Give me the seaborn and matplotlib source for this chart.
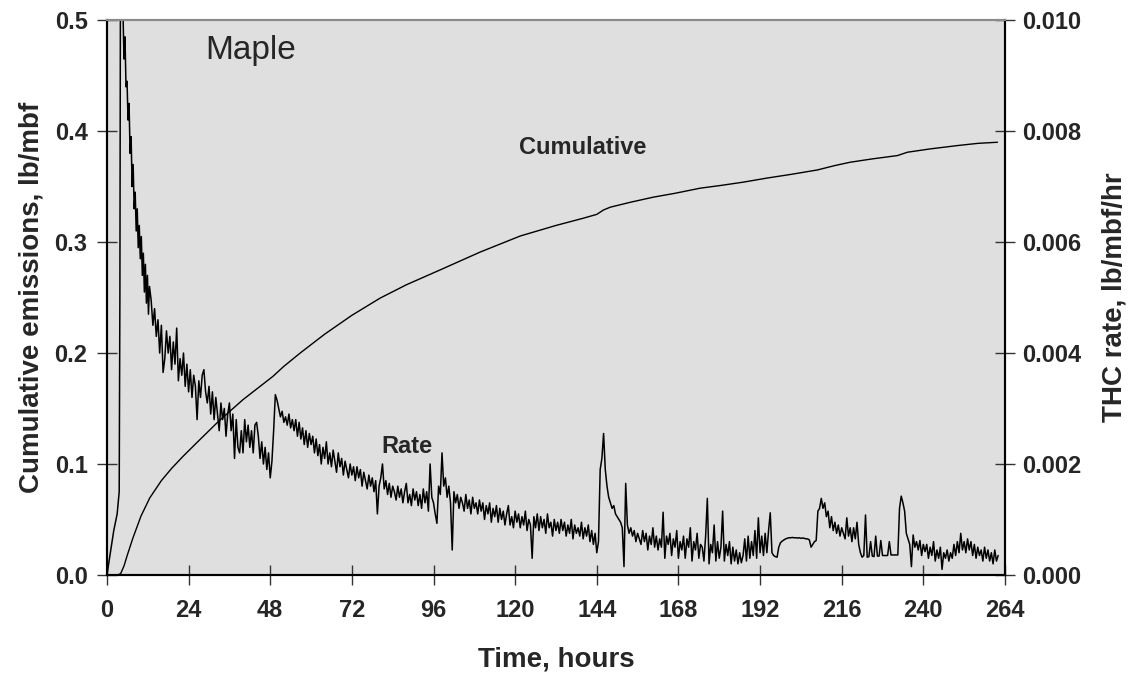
import numpy as np
import pandas as pd
import matplotlib
matplotlib.use("Agg")
import matplotlib.pyplot as plt
import seaborn as sns

# ---------------- data ----------------
# Cumulative emissions, lb/mbf (left axis)
cum_hours = [0, 3, 4, 5, 6, 7.6, 10, 12.6, 16, 19, 22.4, 27, 33, 40, 48.8, 52, 56.8,
             64, 72, 80.3, 88, 98, 109.7, 121.5, 132, 140, 144, 146, 148, 154, 160.6,
             167, 174.4, 180.3, 187, 194, 201, 208.8, 214, 218.5, 225, 232.4, 235.3,
             242, 250, 256, 261.8]
cum_values = [0, 0, 0.001, 0.008, 0.018, 0.033, 0.053, 0.0695, 0.085, 0.096, 0.107,
              0.121, 0.139, 0.158, 0.179, 0.188, 0.200, 0.217, 0.234, 0.2495, 0.2615,
              0.275, 0.291, 0.3055, 0.315, 0.3215, 0.325, 0.329, 0.3315, 0.336, 0.3405,
              0.344, 0.3486, 0.351, 0.354, 0.3577, 0.361, 0.365, 0.369, 0.372, 0.375,
              0.378, 0.381, 0.384, 0.387, 0.389, 0.390]

# THC rate, in units of 0.001 lb/mbf/hr (right axis)
early_hours = [0, 1, 2, 3, 3.6, 3.8, 4.0, 4.3, 4.7, 5.0, 5.3, 5.6, 5.9, 6.2, 6.5, 6.8,
               7.1, 7.4, 7.7, 8.0, 8.3, 8.6, 8.9, 9.2, 9.5, 9.8, 10.1, 10.4, 10.7,
               11.0, 11.3, 11.6, 11.9, 12.2, 12.5]
early_rate = [0, 0.4, 0.8, 1.1, 1.5, 5.0, 12.0, 12.5, 10.2, 9.3, 9.7, 8.8, 8.9, 8.2,
              8.5, 7.6, 7.9, 7.0, 7.4, 6.6, 6.9, 6.2, 6.6, 5.9, 6.3, 5.7, 6.1, 5.4,
              5.8, 5.1, 5.6, 4.9, 5.4, 4.7, 5.2]

# half-hourly readings from 13.0 h to 262.0 h (each row = 6 hours)
halfhour_start = 13.0
halfhour_rate = [
    4.95, 4.5, 4.8, 4.3, 4.6, 4.0, 4.5, 3.65, 3.9, 4.4, 4.0, 4.3,         # 13
    3.7, 4.2, 3.8, 4.45, 3.5, 3.9, 3.6, 4.0, 3.4, 3.8, 3.3, 3.7,          # 19
    3.2, 3.6, 3.4, 2.8, 3.5, 3.2, 3.6, 3.7, 3.3, 3.1, 3.4, 2.9,           # 25
    3.3, 2.8, 3.2, 2.9, 2.6, 3.1, 2.8, 3.0, 2.5, 2.9, 3.1, 2.6,           # 31
    2.9, 2.1, 2.8, 2.3, 2.2, 2.6, 2.2, 2.8, 2.4, 2.7, 2.3, 2.6,           # 37
    2.2, 2.7, 2.75, 2.5, 2.1, 2.4, 2.0, 2.3, 1.9, 2.2, 1.75, 2.05,        # 43
    2.6, 3.25, 3.15, 3.0, 2.85, 2.95, 2.75, 2.85, 2.7, 2.9, 2.65, 2.8,    # 49
    2.6, 2.8, 2.5, 2.75, 2.45, 2.65, 2.35, 2.6, 2.3, 2.55, 2.35, 2.5,     # 55
    2.2, 2.45, 2.15, 2.35, 2.0, 2.3, 2.1, 2.4, 2.0, 2.2, 1.95, 2.25,      # 61
    2.05, 1.85, 2.2, 1.95, 2.1, 1.8, 2.05, 1.9, 1.75, 2.0, 1.8, 1.95,     # 67
    1.7, 1.95, 1.75, 1.9, 1.6, 1.85, 1.7, 1.55, 1.8, 1.6, 1.75, 1.5,      # 73
    1.7, 1.1, 1.6, 1.75, 2.0, 1.55, 1.7, 1.45, 1.65, 1.4, 1.6, 1.5,       # 79
    1.35, 1.6, 1.4, 1.55, 1.3, 1.5, 1.65, 1.3, 1.45, 1.25, 1.55, 1.35,    # 85
    1.5, 1.25, 1.45, 1.2, 1.55, 1.3, 1.5, 1.15, 2.0, 1.4, 1.3, 1.1,       # 91
    0.93, 1.6, 1.45, 2.2, 1.6, 1.75, 1.4, 1.6, 1.3, 0.45, 1.5, 1.3,       # 97
    1.45, 1.2, 1.4, 1.3, 1.15, 1.45, 1.2, 1.35, 1.1, 1.4, 1.2, 1.3,       # 103
    1.1, 1.35, 1.15, 1.3, 1.0, 1.25, 1.1, 1.3, 0.95, 1.2, 1.05, 1.25,     # 109
    0.95, 1.2, 1.0, 1.15, 0.9, 1.1, 1.25, 0.9, 1.05, 0.85, 1.15, 0.95,    # 115
    1.1, 0.85, 1.05, 0.9, 1.15, 0.8, 1.0, 0.9, 0.3, 1.05, 0.85, 1.1,      # 121
    0.8, 1.05, 0.85, 1.0, 0.75, 1.1, 0.85, 0.95, 0.7, 1.0, 0.8, 0.95,     # 127
    0.75, 1.0, 0.8, 0.95, 0.7, 0.9, 0.75, 1.0, 0.65, 0.9, 0.75, 0.85,     # 133
    0.7, 0.95, 0.65, 0.85, 0.7, 0.9, 0.6, 0.8, 0.55, 0.75, 0.4, 0.6,      # 139
    1.9, 2.1, 2.55, 1.9, 1.6, 1.4, 1.3, 1.2, 1.25, 1.1, 1.05, 1.0,        # 145
    0.95, 0.85, 0.15, 1.65, 0.9, 0.75, 0.85, 0.7, 0.8, 0.6, 0.75, 0.65,   # 151
    0.55, 0.8, 0.6, 0.75, 0.45, 0.7, 0.55, 0.85, 0.5, 0.7, 0.45, 0.65,    # 157
    0.5, 1.13, 0.3, 0.7, 0.55, 0.75, 0.35, 0.65, 0.5, 0.8, 0.3, 0.6,      # 163
    0.45, 0.7, 0.3, 0.65, 0.5, 0.85, 0.25, 0.6, 0.45, 0.75, 0.3, 0.55,    # 169
    0.5, 0.25, 0.7, 1.38, 0.2, 0.55, 0.4, 0.9, 0.25, 0.6, 0.3, 0.5,       # 175
    1.15, 0.25, 0.55, 0.35, 0.6, 0.2, 0.5, 0.25, 0.45, 0.2, 0.4, 0.22,    # 181
    0.35, 0.65, 0.25, 0.7, 0.3, 0.6, 0.35, 0.8, 0.3, 1.03, 0.4, 0.7,      # 187
    0.35, 0.75, 0.4, 0.8, 1.12, 0.4, 0.35, 0.33, 0.32, 0.5, 0.58, 0.61,   # 193
    0.63, 0.65, 0.66, 0.67, 0.67, 0.675, 0.67, 0.67, 0.665, 0.67, 0.66, 0.665,  # 199
    0.66, 0.65, 0.65, 0.63, 0.5, 0.55, 0.6, 0.62, 1.15, 1.2, 1.38, 1.2,   # 205
    1.3, 1.05, 1.15, 0.85, 1.05, 0.8, 0.95, 0.75, 0.9, 0.7, 0.85, 0.75,   # 211
    0.65, 1.03, 0.7, 0.85, 0.6, 0.85, 0.65, 0.95, 0.55, 0.4, 0.32, 0.35,  # 217
    1.08, 0.32, 0.33, 0.6, 0.34, 0.33, 0.7, 0.34, 0.34, 0.62, 0.35, 0.35, # 223
    0.35, 0.35, 0.6, 0.36, 0.36, 0.36, 0.36, 0.36, 1.2, 1.42, 1.3, 1.15,  # 229
    0.75, 0.65, 0.55, 0.15, 0.72, 0.5, 0.6, 0.45, 0.62, 0.35, 0.55, 0.42, # 235
    0.55, 0.3, 0.5, 0.35, 0.6, 0.25, 0.45, 0.3, 0.5, 0.1, 0.4, 0.3,       # 241
    0.45, 0.25, 0.4, 0.3, 0.55, 0.35, 0.6, 0.4, 0.75, 0.45, 0.6, 0.4,     # 247
    0.65, 0.45, 0.6, 0.35, 0.55, 0.3, 0.5, 0.35, 0.45, 0.25, 0.5, 0.3,    # 253
    0.45, 0.25, 0.4, 0.2, 0.45, 0.25, 0.35,                               # 259-262
]

x_ticks = [0, 24, 48, 72, 96, 120, 144, 168, 192, 216, 240, 264]
left_ticks = [0.0, 0.1, 0.2, 0.3, 0.4, 0.5]
right_ticks = [0.000, 0.002, 0.004, 0.006, 0.008, 0.010]

# ---------------- build frames ----------------
halfhour_hours = [halfhour_start + 0.5 * i for i in range(len(halfhour_rate))]
rate_hours = list(early_hours) + halfhour_hours
rate_values = [v / 1000.0 for v in list(early_rate) + list(halfhour_rate)]
cum_df = pd.DataFrame({"hours": cum_hours, "cum": cum_values})
rate_df = pd.DataFrame({"hours": rate_hours, "rate": rate_values})

# ---------------- plot ----------------
sns.set_style("ticks")
plt.rcParams['font.family'] = ['Liberation Sans', 'DejaVu Sans']
plt.rcParams['font.weight'] = 'bold'
plt.rcParams['axes.labelweight'] = 'bold'

fig = plt.figure(figsize=(11.33, 6.74), dpi=100)
ax = fig.add_axes([0.0944, 0.147, 0.7926, 0.823])
ax.set_facecolor('#dfdfdf')

sns.lineplot(data=cum_df, x="hours", y="cum", ax=ax, color='black', lw=1.0,
             estimator=None, sort=False)
ax2 = ax.twinx()
sns.lineplot(data=rate_df, x="hours", y="rate", ax=ax2, color='black', lw=1.1,
             estimator=None, sort=False)

ax.set_xlim(0, 264)
ax.set_ylim(0, 0.5)
ax2.set_ylim(0, 0.010)
ax.set_xticks(x_ticks)
ax.set_xticklabels([str(t) for t in x_ticks])
ax.set_yticks(left_ticks)
ax.set_yticklabels([f"{v:.1f}" for v in left_ticks])
ax2.set_yticks(right_ticks)
ax2.set_yticklabels([f"{v:.3f}" for v in right_ticks])

for a in (ax, ax2):
    a.tick_params(direction='inout', length=14, width=1.0, labelsize=17,
                  color='#333333', pad=7)
    for s in a.spines.values():
        s.set_linewidth(1.5)
        s.set_color('black')
    a.spines['top'].set_color('#8a8a8a')
ax.tick_params(axis='x', pad=10)
ax2.tick_params(axis='y', pad=5)

ax.set_xlabel("Time, hours", fontsize=20, fontweight='bold', labelpad=18)
ax.set_ylabel("Cumulative emissions, lb/mbf", fontsize=20, fontweight='bold', labelpad=7)
ax2.set_ylabel("THC rate, lb/mbf/hr", fontsize=20, fontweight='bold', labelpad=15)

ax.text(0.109, 0.93, "Maple", transform=ax.transAxes, fontsize=24,
        fontweight='normal', ha='left', va='baseline')
ax.text(0.53, 0.758, "Cumulative", transform=ax.transAxes, fontsize=17,
        fontweight='bold', ha='center', va='baseline')
ax.text(0.334, 0.219, "Rate", transform=ax.transAxes, fontsize=17,
        fontweight='bold', ha='center', va='baseline')

fig.savefig("out.png", dpi=100)
